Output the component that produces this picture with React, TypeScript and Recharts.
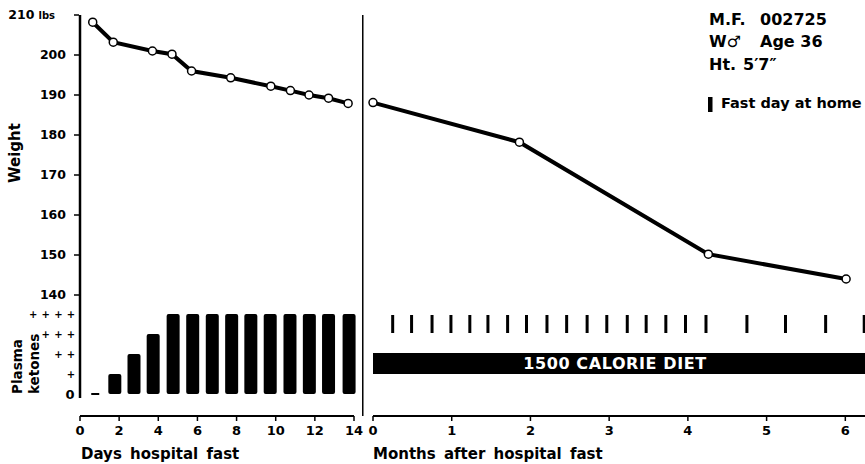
import React from 'react';
import { ComposedChart, Line, Bar, XAxis, YAxis, ReferenceLine, ReferenceArea } from 'recharts';

const FONT = '"DejaVu Sans", "Liberation Sans", sans-serif';

// ---- Hospital fast (days) ----
const hospitalDays = [0.65, 1.7, 3.7, 4.7, 5.7, 7.7, 9.75, 10.75, 11.7, 12.7, 13.7];
const hospitalWeights = [208.2, 203.2, 201, 200.2, 196, 194.3, 192.2, 191.1, 190, 189.2, 187.9];

const ketoneDays = [0.78, 1.78, 2.76, 3.74, 4.76, 5.76, 6.76, 7.75, 8.73, 9.72, 10.73, 11.72, 12.7, 13.75];
const ketoneLevels = [0, 1, 2, 3, 4, 4, 4, 4, 4, 4, 4, 4, 4, 4];

// ---- After hospital (months) ----
const homeMonths = [0, 1.86, 4.26, 6.01];
const homeWeights = [188.1, 178.2, 150.2, 144];

const fastDayMonths = [
  0.25, 0.49, 0.75, 0.99, 1.23, 1.46, 1.71, 1.95, 2.21, 2.46, 2.72, 2.97, 3.23, 3.47, 3.72, 3.97, 4.23,
  4.75, 5.24, 5.75, 6.24,
];

// ---- Axes ----
const dayTicks = [0, 2, 4, 6, 8, 10, 12, 14];
const monthTicks = [0, 1, 2, 3, 4, 5, 6];
const weightTicks = [140, 150, 160, 170, 180, 190, 200, 210];
const ketoneTicks = [0, 1, 2, 3, 4];
const ketoneLabels = ['0', '+', '++', '+++', '++++'];

const DAY_DOMAIN: [number, number] = [0, 14];
const MONTH_DOMAIN: [number, number] = [0, 6.25];
const WEIGHT_DOMAIN: [number, number] = [109.75, 210];
const KETONE_DOMAIN: [number, number] = [-1.1, 18.95];
const DIET_BAND: [number, number] = [1.0, 2.05];
const FAST_MARK: [number, number] = [3.05, 3.95];
const DIVIDER_MONTH = -0.13;

const hospitalData = hospitalDays.map((d, i) => ({ day: d, w: hospitalWeights[i] }));
const ketoneData = ketoneDays.map((d, i) => ({ day: d, level: ketoneLevels[i] }));
const homeData = homeMonths.map((m, i) => ({ month: m, w: homeWeights[i] }));

const W = 865;
const H = 464;
const BAR_W = 13;

const boldText = { fontFamily: FONT, fontWeight: 700, fill: '#000' } as const;

const WeightTick = (props: any) => {
  const { x, y, payload } = props;
  if (payload.value === 210) {
    return (
      <text x={x - 11} y={y} dy="0.35em" textAnchor="end" fontSize={12.5} style={boldText}>
        210
        <tspan fontSize={10} dx={4}>lbs</tspan>
      </text>
    );
  }
  return (
    <text x={x} y={y} dy="0.35em" textAnchor="end" fontSize={12.5} style={boldText}>
      {payload.value}
    </text>
  );
};

const KetoneTick = (props: any) => {
  const { y, payload } = props;
  const label = ketoneLabels[payload.value] ?? '';
  if (label === '0') {
    return (
      <text x={70} y={y} dy="0.35em" textAnchor="middle" fontSize={13} style={boldText}>
        0
      </text>
    );
  }
  return (
    <g>
      {label.split('').map((c, i) => (
        <text key={i} x={71 - i * 12.6} y={y} dy="0.35em" textAnchor="middle" fontSize={10} style={boldText}>
          {c}
        </text>
      ))}
    </g>
  );
};

const KetoneBar = (props: any) => {
  const { x, y, width, height, payload } = props;
  const cx = x + width / 2;
  if (!payload || payload.level === 0) {
    return <rect x={cx - 4} y={y - 1} width={8} height={2} fill="#000" />;
  }
  return <rect x={cx - BAR_W / 2} y={y} width={BAR_W} height={height} rx={2} ry={2} fill="#000" />;
};

const dotStyle = { r: 4, fill: '#fff', stroke: '#000', strokeWidth: 1.5 };

export default function App() {
  return (
    <div style={{ position: 'absolute', left: 0, top: 0, width: W, height: H, background: '#fff' }}>
      {/* Left panel: hospital fast */}
      <div style={{ position: 'absolute', left: 0, top: 0 }}>
        <ComposedChart width={372} height={H} data={ketoneData} margin={{ top: 15, right: 18, bottom: 0, left: 0 }}>
          <XAxis
            dataKey="day"
            type="number"
            domain={DAY_DOMAIN}
            ticks={dayTicks}
            interval={0}
            height={48}
            tickSize={5}
            tickMargin={5}
            axisLine={{ stroke: '#000', strokeWidth: 2 }}
            tickLine={{ stroke: '#000', strokeWidth: 1.5 }}
            tick={{ fontSize: 13, fontFamily: FONT, fontWeight: 700, fill: '#000' }}
            label={{
              content: (p: any) => (
                <text x={p.viewBox.x + 1} y={p.viewBox.y + 43} fontSize={15} wordSpacing={3} style={boldText}>
                  Days hospital fast
                </text>
              ),
            }}
          />
          <YAxis
            yAxisId="w"
            type="number"
            domain={WEIGHT_DOMAIN}
            ticks={weightTicks}
            interval={0}
            width={79}
            tickSize={5}
            tickMargin={8}
            axisLine={false}
            tickLine={{ stroke: '#000', strokeWidth: 1.5 }}
            tick={<WeightTick />}
            label={{
              content: (p: any) => (
                <text
                  x={20}
                  y={p.viewBox.y + 138}
                  transform={`rotate(-90 20 ${p.viewBox.y + 138})`}
                  textAnchor="middle"
                  fontSize={15}
                  style={boldText}
                >
                  Weight
                </text>
              ),
            }}
          />
          <YAxis
            yAxisId="k"
            type="number"
            domain={KETONE_DOMAIN}
            ticks={ketoneTicks}
            interval={0}
            allowDataOverflow
            width={1}
            axisLine={false}
            tickLine={false}
            tick={<KetoneTick />}
            label={{
              content: (p: any) => {
                const yb = p.viewBox.y + p.viewBox.height - 22;
                return (
                  <g>
                    <text x={22} y={yb} transform={`rotate(-90 22 ${yb})`} fontSize={13.5} style={boldText}>
                      Plasma
                    </text>
                    <text x={39} y={yb} transform={`rotate(-90 39 ${yb})`} fontSize={13.5} style={boldText}>
                      ketones
                    </text>
                  </g>
                );
              },
            }}
          />
          <ReferenceLine
            yAxisId="k"
            segment={[
              { x: 0, y: -0.2 },
              { x: 0, y: KETONE_DOMAIN[1] },
            ]}
            stroke="#000"
            strokeWidth={2.5}
            ifOverflow="visible"
          />
          <Bar
            yAxisId="k"
            dataKey="level"
            barSize={BAR_W}
            fill="#000"
            shape={<KetoneBar />}
            isAnimationActive={false}
          />
          <Line
            yAxisId="w"
            data={hospitalData}
            dataKey="w"
            stroke="#000"
            strokeWidth={4}
            dot={dotStyle}
            activeDot={false}
            isAnimationActive={false}
          />
        </ComposedChart>
      </div>

      {/* Right panel: after hospital */}
      <div style={{ position: 'absolute', left: 0, top: 0 }}>
        <ComposedChart width={W} height={H} data={homeData} margin={{ top: 15, right: 0, bottom: 0, left: 373 }}>
          <XAxis
            dataKey="month"
            type="number"
            domain={MONTH_DOMAIN}
            ticks={monthTicks}
            interval={0}
            height={48}
            tickSize={5}
            tickMargin={5}
            axisLine={{ stroke: '#000', strokeWidth: 2 }}
            tickLine={{ stroke: '#000', strokeWidth: 1.5 }}
            tick={{ fontSize: 13, fontFamily: FONT, fontWeight: 700, fill: '#000' }}
            label={{
              content: (p: any) => (
                <text x={p.viewBox.x} y={p.viewBox.y + 43} fontSize={15} wordSpacing={3} style={boldText}>
                  Months after hospital fast
                </text>
              ),
            }}
          />
          <YAxis yAxisId="w" type="number" domain={WEIGHT_DOMAIN} hide />
          <YAxis yAxisId="k" type="number" domain={KETONE_DOMAIN} allowDataOverflow hide />
          <ReferenceLine yAxisId="w" x={DIVIDER_MONTH} stroke="#000" strokeWidth={1.5} ifOverflow="visible" />
          <ReferenceArea
            yAxisId="k"
            x1={MONTH_DOMAIN[0]}
            x2={MONTH_DOMAIN[1]}
            y1={DIET_BAND[0]}
            y2={DIET_BAND[1]}
            fill="#000"
            fillOpacity={1}
            stroke="none"
            ifOverflow="visible"
            label={{
              content: (p: any) => (
                <text
                  x={p.viewBox.x + p.viewBox.width / 2 - 4}
                  y={p.viewBox.y + p.viewBox.height / 2}
                  dy="0.36em"
                  textAnchor="middle"
                  fontSize={16}
                  letterSpacing={0.6}
                  style={{ ...boldText, fill: '#fff' }}
                >
                  1500 CALORIE DIET
                </text>
              ),
            }}
          />
          {fastDayMonths.map((m) => (
            <ReferenceLine
              key={m}
              yAxisId="k"
              segment={[
                { x: m, y: FAST_MARK[0] },
                { x: m, y: FAST_MARK[1] },
              ]}
              stroke="#000"
              strokeWidth={3}
              ifOverflow="visible"
            />
          ))}
          <Line
            yAxisId="w"
            dataKey="w"
            stroke="#000"
            strokeWidth={4}
            dot={dotStyle}
            activeDot={false}
            isAnimationActive={false}
          />
        </ComposedChart>
      </div>

      {/* Annotations */}
      <svg width={W} height={H} style={{ position: 'absolute', left: 0, top: 0, pointerEvents: 'none' }}>
        <g fontSize={16} style={boldText}>
          <text x={709} y={25}>M.F.</text>
          <text x={760} y={25}>002725</text>
          <text x={709} y={47}>W♂</text>
          <text x={760} y={47}>Age 36</text>
          <text x={709} y={70}>Ht.</text>
          <text x={743} y={70}>5′7″</text>
        </g>
        <rect x={708} y={97} width={4.5} height={15} fill="#000" />
        <text x={721} y={108} fontSize={14.5} style={boldText}>
          Fast day at home
        </text>
      </svg>
    </div>
  );
}
